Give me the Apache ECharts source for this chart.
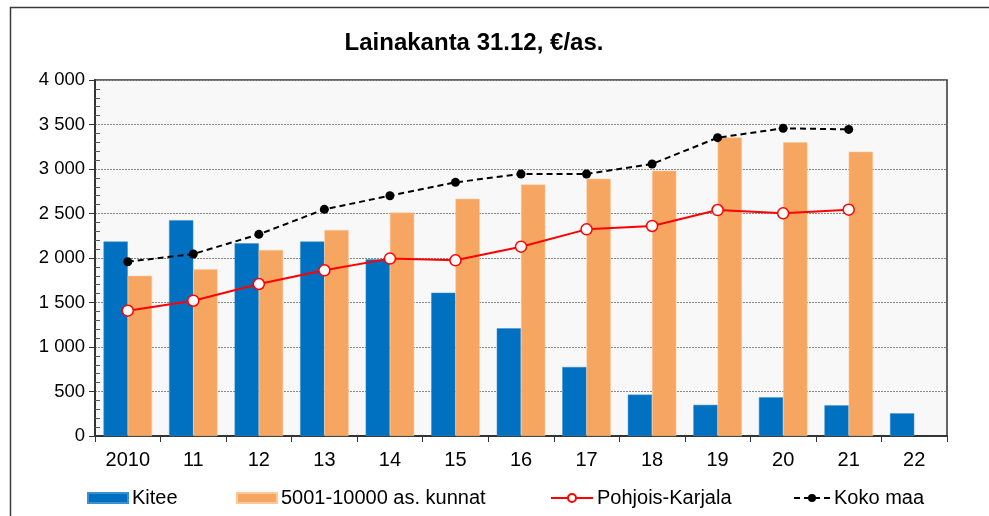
<!DOCTYPE html>
<html>
<head>
<meta charset="utf-8">
<script src="https://cdn.jsdelivr.net/npm/echarts@6/dist/echarts.min.js"></script>
<style>
html,body{margin:0;padding:0;background:#fff;}
#chart{width:989px;height:516px;}
</style>
</head>
<body>
<div id="chart"></div>
<script>
const categories = ['2010','11','12','13','14','15','16','17','18','19','20','21','22'];
const kitee = [2185, 2425, 2165, 2185, 1985, 1610, 1210, 775, 465, 350, 435, 345, 255];
const kunnat = [1800, 1875, 2090, 2315, 2510, 2665, 2825, 2890, 2980, 3355, 3300, 3195, null];
const pohjoisKarjala = [1408, 1520, 1708, 1862, 1993, 1974, 2127, 2322, 2360, 2539, 2502, 2543, null];
const kokoMaa = [1958, 2045, 2266, 2547, 2700, 2850, 2944, 2944, 3056, 3352, 3457, 3445, null];
const titleText = 'Lainakanta 31.12, €/as.';
const names = ['Kitee', '5001-10000 as. kunnat', 'Pohjois-Karjala', 'Koko maa'];

const font = 'Liberation Sans, Arial, sans-serif';
const chart = echarts.init(document.getElementById('chart'));
const fmt = v => {
  const s = String(v);
  return s.length > 3 ? s.slice(0, s.length - 3) + ' ' + s.slice(-3) : s;
};
function mkLegend(name, left, w, h, icon) {
  const l = {
    data: [name], left: left, top: 483, itemWidth: w, itemHeight: h,
    itemGap: 0, textStyle: {fontFamily: font, fontSize: 20, color: '#000', padding: [0, 0, 0, -1]},
    selectedMode: false
  };
  if (icon) l.icon = icon;
  return l;
}
chart.setOption({
  animation: false,
  backgroundColor: '#fff',
  title: {
    text: titleText, left: 469, textAlign: 'center', top: 26,
    textStyle: {fontFamily: font, fontSize: 24, fontWeight: 'bold', color: '#000'}
  },
  legend: [
    mkLegend(names[0], 82, 40, 10, 'rect'),
    mkLegend(names[1], 231, 40, 10, 'rect'),
    mkLegend(names[2], 545, 42, 10),
    mkLegend(names[3], 788, 36, 10)
  ],
  graphic: [
    {type: 'polyline', shape: {points: [[10.5, 516], [10.5, 7.5], [989, 7.5]]}, style: {stroke: '#3a3a3a', lineWidth: 1.5, fill: null}}
  ],
  grid: {
    left: 95, right: 42, top: 80, bottom: 80,
    show: true, backgroundColor: '#f8f8f8', borderColor: '#333', borderWidth: 1.5
  },
  xAxis: {
    type: 'category', data: categories,
    axisLine: {lineStyle: {color: '#333', width: 2}},
    axisTick: {show: true, length: 6, lineStyle: {color: '#333'}},
    axisLabel: {fontFamily: font, fontSize: 20, color: '#000', margin: 14}
  },
  yAxis: [
    {
      type: 'value', min: 0, max: 4000, interval: 500,
      axisLine: {show: true, lineStyle: {color: '#333', width: 2}},
      axisTick: {show: true, length: 6, lineStyle: {color: '#333'}},
      axisLabel: {fontFamily: font, fontSize: 18.5, color: '#000', margin: 10, formatter: fmt},
      splitLine: {show: true, lineStyle: {color: '#888', type: [2, 1], width: 1}}
    },
    {
      type: 'value', min: 0, max: 4000, interval: 500, position: 'left',
      axisLine: {show: false}, axisLabel: {show: false}, splitLine: {show: false},
      axisTick: {show: false, inside: true},
      minorTick: {show: true, splitNumber: 5, length: 5, lineStyle: {color: '#555'}}
    }
  ],
  series: [
    {
      name: names[0], type: 'bar', data: kitee, barGap: '0%', barCategoryGap: '26%',
      itemStyle: {color: '#0070C0', borderColor: '#3d8fd0', borderWidth: 0.5}
    },
    {
      name: names[1], type: 'bar', data: kunnat,
      itemStyle: {color: '#F7A661', borderColor: '#fbc99a', borderWidth: 0.5}
    },
    {
      name: names[2], type: 'line', data: pohjoisKarjala, symbol: 'circle', symbolSize: 11,
      lineStyle: {color: '#FF0000', width: 2},
      itemStyle: {color: '#fff', borderColor: '#FF0000', borderWidth: 1.5}
    },
    {
      name: names[3], type: 'line', data: kokoMaa, symbol: 'circle', symbolSize: 9,
      lineStyle: {color: '#000', width: 2, type: [6, 4]},
      itemStyle: {color: '#000', borderColor: '#000', borderWidth: 0}
    }
  ]
});
</script>
</body>
</html>
